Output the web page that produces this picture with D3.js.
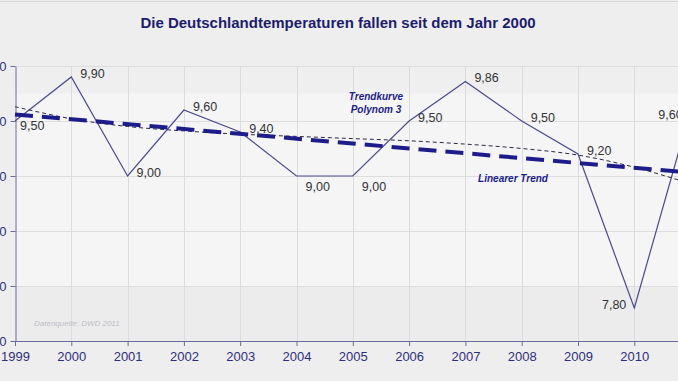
<!DOCTYPE html>
<html><head><meta charset="utf-8">
<script src="https://cdn.jsdelivr.net/npm/d3@7"></script>
<style>html,body{margin:0;padding:0;background:#eeeeee;}svg{display:block;font-family:Arial,"Liberation Sans",sans-serif;}</style>
</head><body>
<svg id="c" width="678" height="381"></svg>
<script>
const years = [1999,2000,2001,2002,2003,2004,2005,2006,2007,2008,2009,2010,2011];
const temps = [9.50,9.90,9.00,9.60,9.40,9.00,9.00,9.50,9.86,9.50,9.20,7.80,9.60];
const labelSide = ["br","r","r","r","r","b","b","r","r","r","r","l","lb"];
const linearYears = [1999,2011];
const linearTrend = [9.56,9.03];
const polyTrend = [9.63,9.52,9.45,9.41,9.38,9.36,9.34,9.32,9.29,9.25,9.19,9.08,8.93];
const yTicks = [7.5,8.0,8.5,9.0,9.5,10.0];
const xTicks = [1999,2000,2001,2002,2003,2004,2005,2006,2007,2008,2009,2010];
const title = "Die Deutschlandtemperaturen fallen seit dem Jahr 2000";

const svg = d3.select("#c");
const W=678,H=381;
const x = d3.scaleLinear().domain([1999,2011]).range([15,690.6]);
const y = d3.scaleLinear().domain([7.5,10]).range([341,66]);
const fmt = v => d3.format(".2f")(v).replace(".",",");

svg.append("rect").attr("width",W).attr("height",H).attr("fill","#eeeeee");
svg.append("line").attr("x1",0).attr("x2",W).attr("y1",1.5).attr("y2",1.5).attr("stroke","#d6d6d6");

// plot background
svg.append("rect").attr("x",15).attr("y",y(10)).attr("width",W-15).attr("height",y(7.5)-y(10)).attr("fill","#f5f5f6");
svg.append("rect").attr("x",15).attr("y",y(10)).attr("width",W-15).attr("height",y(9.75)-y(10)).attr("fill","#efeff0");
svg.append("rect").attr("x",15).attr("y",y(8.0)).attr("width",W-15).attr("height",y(7.5)-y(8.0)).attr("fill","#ececed");

// gridlines
svg.append("g").selectAll("line").data(yTicks.filter(d=>d>7.5)).join("line")
  .attr("x1",15).attr("x2",W).attr("y1",d=>y(d)+0.5).attr("y2",d=>y(d)+0.5).attr("stroke","#dddddd");
svg.append("g").selectAll("line").data(xTicks.filter(d=>d>1999)).join("line")
  .attr("x1",d=>Math.round(x(d))+0.5).attr("x2",d=>Math.round(x(d))+0.5).attr("y1",y(10)).attr("y2",y(7.5)).attr("stroke","#dcdcdc");

// axes
const axisColor="#6b6b99";
const xAxis = svg.append("g").attr("transform",`translate(0,${y(7.5)})`)
  .call(d3.axisBottom(x).tickValues(xTicks).tickFormat(d3.format("d")).tickSize(5).tickSizeOuter(0));
xAxis.select(".domain").attr("stroke",axisColor).attr("d",`M15,0.5H${W}`);
xAxis.selectAll(".tick line").attr("stroke",axisColor);
xAxis.selectAll(".tick text").attr("fill","#2e2e7e").attr("font-size",13).attr("font-family","Arial, Liberation Sans, sans-serif").attr("dy","0.95em");

const yAxis = svg.append("g").attr("transform",`translate(15.5,0)`)
  .call(d3.axisLeft(y).tickValues(yTicks).tickFormat(fmt).tickSize(5).tickSizeOuter(0));
yAxis.select(".domain").attr("stroke",axisColor);
yAxis.selectAll(".tick line").attr("stroke",axisColor);
yAxis.selectAll(".tick text").attr("fill","#2e2e7e").attr("font-size",13).attr("font-family","Arial, Liberation Sans, sans-serif").attr("x",-9);

// faint source text
svg.append("text").attr("x",34).attr("y",326).attr("font-size",8).attr("font-style","italic").attr("fill","#bdbdc4").text("Datenquelle: DWD 2011");

// data line
const line = d3.line().x((d,i)=>x(years[i])).y(d=>y(d));
svg.append("path").datum(temps).attr("d",line).attr("fill","none").attr("stroke","#4a4a8e").attr("stroke-width",1.2);

// poly trend
const pline = d3.line().curve(d3.curveCatmullRom.alpha(0.5)).x((d,i)=>x(years[i])).y(d=>y(d));
svg.append("path").datum(polyTrend).attr("d",pline).attr("fill","none").attr("stroke","#2a2a40").attr("stroke-width",1).attr("stroke-dasharray","4,3");

// linear trend
const lline = d3.line().x((d,i)=>x(linearYears[i])).y(d=>y(d));
svg.append("path").datum(linearTrend).attr("d",lline).attr("fill","none").attr("stroke","#1c1c8a").attr("stroke-width",4).attr("stroke-dasharray","18,9");

// value labels
svg.append("g").selectAll("text").data(temps).join("text")
  .attr("x",(d,i)=>{const s=labelSide[i];const px=x(years[i]);return s[0]==="l"?px-8:px+(s==="br"?5:9);})
  .attr("y",(d,i)=>{const s=labelSide[i];const py=y(d);return s==="b"?py+15:(s==="br"||s==="lb"?py+9:py+1);})
  .attr("text-anchor",(d,i)=>labelSide[i][0]==="l"?"end":"start")
  .attr("font-size",12.5).attr("fill","#333333").text(d=>fmt(d));

// trend annotations
const ann = svg.append("g").attr("font-weight","bold").attr("font-style","italic").attr("font-size",10).attr("fill","#1c1c8a").attr("text-anchor","middle");
ann.append("text").attr("x",376).attr("y",100).text("Trendkurve");
ann.append("text").attr("x",376).attr("y",113).text("Polynom 3");
ann.append("text").attr("x",513).attr("y",182).text("Linearer Trend");

// title
svg.append("text").attr("x",338).attr("y",28).attr("text-anchor","middle").attr("font-weight","bold").attr("font-size",15).attr("fill","#1c1c6e").text(title);
</script>
</body></html>
